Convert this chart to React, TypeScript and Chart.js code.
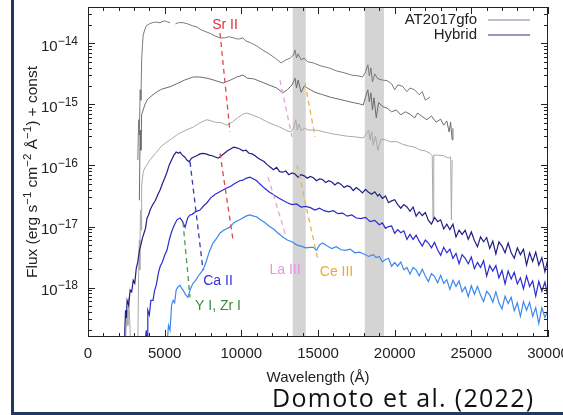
import { useEffect, useRef } from 'react';
import { Chart, registerables } from 'chart.js';

Chart.register(...registerables);

type Pt = [number, number | null];

const FONT = '"Liberation Sans", Arial, Helvetica, sans-serif';

// ---- axis settings ----
const xMin = 0;
const xMax = 30000;
const xTickValues = [0, 5000, 10000, 15000, 20000, 25000, 30000];
const yMin = 1.55e-19;
const yMax = 3.95e-14;
const yTickExponents = [-14, -15, -16, -17, -18];
const xTitle = 'Wavelength (Å)';
const yTitleParts: [string, boolean][] = [
  ['Flux (erg s', false], ['\u22121', true], [' cm', false], ['\u22122', true],
  [' Å', false], ['\u22121', true], [') + const', false],
];

// telluric bands (Å)
const telluricBands: [number, number][] = [[13350, 14200], [18050, 19300]];

// legend
const legendLabels = ['AT2017gfo', 'Hybrid'];
const legendColors = ['#a9a9bf', '#7474ab'];

// ---- spectra: [wavelength Å, log10 flux] ----
const at2017gfoEpoch1: Pt[] = [
  [3250,-15.91],[3300,-15.25],[3350,-15.50],[3400,-14.76],[3450,-14.93],[3500,-14.27],[3550,-14.03],[3600,-13.86],[3700,-13.78],[3800,-13.71],
  [4000,-13.68],[4200,-13.66],[4400,-13.65],[4700,-13.66],[5000,-13.63],[5200,-13.65],[5350,-13.66],[5500,null],[5700,-13.68],[5900,-13.66],
  [6200,-13.66],[6500,-13.68],[6800,-13.71],[7100,-13.73],[7400,-13.78],[7700,-13.81],[8000,-13.84],[8300,-13.88],[8600,-13.91],[8900,-13.91],
  [9200,-13.89],[9500,-13.91],[9800,-13.93],[10100,-13.91],[10300,-13.96],[10600,-13.99],[11000,-14.04],[11400,-14.11],[11800,-14.17],[12200,-14.24],
  [12600,-14.32],[12900,-14.27],[13200,-14.24],[13400,-14.19],[13500,-14.11],[13600,-14.24],[13700,-14.17],[13900,-14.27],[14100,-14.24],[14300,-14.30],
  [14700,-14.32],[15200,-14.37],[15700,-14.40],[16200,-14.45],[16700,-14.48],[17200,-14.52],[17600,-14.53],[17900,-14.55],[18100,-14.47],[18250,-14.35],
  [18350,-14.53],[18450,-14.40],[18550,-14.63],[18700,-14.50],[18900,-14.58],[19200,-14.60],[19500,-14.61],[19800,-14.66],[20000,-14.76],[20200,-14.68],
  [20500,-14.70],[20800,-14.79],[21000,-14.73],[21300,-14.76],[21600,-14.84],[21800,-14.79],[22000,-14.93],[22300,-14.88],
];

const at2017gfoEpoch2: Pt[] = [
  [3350,-16.57],[3400,-15.42],[3450,-15.75],[3500,-15.17],[3600,-15.09],[3700,-15.01],[3850,-14.93],[4040,-14.88],[4400,-14.81],[4800,-14.75],
  [5350,-14.71],[5800,-14.66],[6300,-14.60],[6870,-14.55],[7300,-14.55],[7760,-14.57],[8200,-14.60],[8800,-14.65],[9300,-14.60],[9700,-14.55],
  [10100,-14.52],[10400,-14.57],[10800,-14.58],[11300,-14.63],[11800,-14.68],[12300,-14.73],[12700,-14.81],[13000,-14.76],[13300,-14.68],[13500,-14.57],
  [13600,-14.73],[13700,-14.60],[13900,-14.80],[14100,-14.70],[14300,-14.73],[14800,-14.80],[15300,-14.84],[15800,-14.88],[16300,-14.91],[16800,-14.94],
  [17300,-14.97],[17700,-14.99],[17950,-15.01],[18100,-14.88],[18250,-14.76],[18350,-14.96],[18450,-14.81],[18550,-15.09],[18650,-14.89],[18800,-15.22],
  [18950,-14.97],[19250,-15.04],[19500,-15.06],[19800,-15.12],[20100,-15.09],[20400,-15.17],[20700,-15.12],[21000,-15.16],[21300,-15.22],[21500,-15.14],
  [21800,-15.20],[22100,-15.25],[22400,-15.19],[22700,-15.29],[23000,-15.24],[23200,-15.34],[23400,-15.27],[23550,-15.45],[23650,-15.29],[23750,-15.58],
  [23800,-15.39],
];

const at2017gfoEpoch3: Pt[] = [
  [2450,-18.86],[2550,-18.37],[2600,-18.62],[2650,-18.17],[2720,-18.53],[2780,-18.94],[3250,-18.94],[3300,-17.80],[3350,-17.22],[3380,-17.71],
  [3420,-16.73],[3460,-17.06],[3500,-16.32],[3600,-16.11],[3700,-16.04],[3850,-15.99],[4040,-15.91],[4400,-15.80],[4800,-15.68],[5350,-15.58],
  [5900,-15.48],[6400,-15.42],[6870,-15.37],[7300,-15.30],[7760,-15.25],[8300,-15.29],[8700,-15.30],[9050,-15.34],[9400,-15.29],[9800,-15.21],
  [10100,-15.16],[10350,-15.14],[10700,-15.17],[11200,-15.22],[11700,-15.29],[12200,-15.34],[12500,-15.37],[12900,-15.42],[13200,-15.45],[13400,-15.39],
  [13550,-15.25],[13650,-15.42],[13750,-15.32],[13900,-15.43],[14100,-15.39],[14400,-15.42],[14900,-15.42],[15400,-15.45],[15900,-15.48],[16400,-15.50],
  [16900,-15.52],[17400,-15.53],[17950,-15.55],[18150,-15.48],[18300,-15.42],[18400,-15.58],[18500,-15.45],[18600,-15.66],[18750,-15.52],[18900,-15.75],
  [19100,-15.57],[19400,-15.58],[19700,-15.61],[20150,-15.61],[20500,-15.65],[20900,-15.68],[21300,-15.70],[21700,-15.75],[22000,-15.76],[22300,-15.80],
  [22450,-15.84],[22500,-16.89],[22550,-15.83],[22800,-15.83],[23200,-15.84],[23500,-15.88],[23650,-15.86],[23700,-16.89],[23750,-15.91],
];

const hybridEarly: Pt[] = [
  [2350,-18.94],[2400,-18.70],[2450,-18.37],[2500,-18.50],[2550,-18.21],[2650,-18.29],[2750,-18.04],[2850,-18.07],[2950,-17.88],[3050,-17.93],
  [3150,-17.68],[3250,-17.58],[3350,-17.39],[3450,-17.30],[3550,-17.19],[3650,-17.11],[3750,-17.03],[3850,-16.86],[3950,-16.81],[4050,-16.73],
  [4200,-16.65],[4400,-16.57],[4550,-16.48],[4700,-16.40],[4850,-16.30],[5000,-16.21],[5150,-16.11],[5300,-15.99],[5450,-15.91],[5600,-15.83],
  [5750,-15.78],[5900,-15.80],[6000,-15.78],[6150,-15.83],[6300,-15.86],[6450,-15.91],[6600,-15.94],[6750,-15.88],[6900,-15.86],[7100,-15.84],
  [7300,-15.81],[7500,-15.80],[7700,-15.81],[7900,-15.83],[8100,-15.84],[8300,-15.86],[8500,-15.88],[8700,-15.84],[8900,-15.80],[9100,-15.76],
  [9300,-15.73],[9500,-15.70],[9700,-15.71],[9900,-15.73],[10100,-15.76],[10300,-15.75],[10500,-15.80],[10700,-15.81],[10900,-15.84],[11100,-15.88],
  [11300,-15.91],[11500,-15.94],[11700,-15.99],[11900,-16.03],[12100,-16.07],[12300,-16.03],[12500,-16.10],[12700,-16.11],[12900,-16.09],[13100,-16.15],
  [13300,-16.12],[13500,-16.14],[13700,-16.19],[13900,-16.15],[14100,-16.17],[14300,-16.21],[14500,-16.18],[14700,-16.20],[14900,-16.25],[15100,-16.22],
  [15300,-16.23],[15500,-16.28],[15700,-16.25],[15900,-16.27],[16100,-16.32],[16300,-16.28],[16500,-16.31],[16700,-16.36],[16900,-16.33],[17100,-16.35],
  [17300,-16.41],[17500,-16.36],[17700,-16.40],[17900,-16.45],[18100,-16.39],[18300,-16.44],[18500,-16.47],[18700,-16.43],[18900,-16.50],
  [19000,-16.47],[19200,-16.54],[19400,-16.50],[19600,-16.61],[19800,-16.58],[20000,-16.56],[20200,-16.64],[20400,-16.70],[20600,-16.64],[20800,-16.68],
  [21000,-16.75],[21200,-16.68],[21400,-16.83],[21600,-16.76],[21800,-16.82],[22000,-16.77],[22200,-16.90],[22400,-16.96],[22600,-16.85],[22800,-16.92],
  [23000,-16.89],[23200,-17.04],[23400,-16.96],[23600,-17.05],[23800,-16.96],[24000,-17.17],[24200,-17.06],[24400,-17.13],[24600,-17.06],[24800,-17.21],
  [25000,-17.09],[25200,-17.23],[25400,-17.33],[25600,-17.17],[25800,-17.25],[26000,-17.18],[26200,-17.36],[26400,-17.24],[26600,-17.45],[26800,-17.25],
  [27000,-17.32],[27200,-17.43],[27400,-17.27],[27600,-17.43],[27800,-17.52],[28000,-17.35],[28200,-17.46],[28400,-17.37],[28600,-17.63],[28800,-17.43],
  [29000,-17.57],[29200,-17.42],[29400,-17.63],[29600,-17.51],[29800,-17.74],[30000,-17.52],
];

const hybridMid: Pt[] = [
  [3700,-18.94],[3800,-18.70],[3850,-18.86],[3900,-18.37],[4000,-18.45],[4100,-18.21],[4240,-18.21],[4350,-18.04],[4450,-17.96],[4600,-17.75],
  [4700,-17.66],[4850,-17.58],[5000,-17.47],[5150,-17.39],[5300,-17.22],[5450,-17.09],[5600,-16.99],[5800,-16.89],[6000,-16.86],[6150,-16.91],
  [6330,-17.01],[6500,-16.86],[6650,-16.81],[6800,-16.80],[7000,-16.76],[7300,-16.73],[7550,-16.66],[7760,-16.61],[8000,-16.53],[8300,-16.47],
  [8600,-16.43],[9050,-16.37],[9300,-16.34],[9600,-16.29],[9900,-16.25],[10100,-16.24],[10300,-16.21],[10560,-16.19],[10800,-16.22],[11000,-16.25],
  [11200,-16.30],[11500,-16.37],[11800,-16.43],[12100,-16.48],[12400,-16.53],[12700,-16.57],[13000,-16.61],[13300,-16.64],[13600,-16.63],[13900,-16.68],
  [14200,-16.67],[14500,-16.69],[14800,-16.73],[15100,-16.70],[15400,-16.74],[15700,-16.76],[16000,-16.74],[16300,-16.79],[16600,-16.78],[16900,-16.83],
  [17200,-16.81],[17500,-16.86],[17800,-16.87],[18100,-16.85],[18400,-16.92],[18700,-16.90],
  [19000,-16.97],[19200,-16.94],[19400,-17.03],[19600,-17.00],[19800,-16.99],[20000,-17.11],[20200,-17.05],[20400,-17.10],[20600,-17.07],[20800,-17.21],
  [21000,-17.13],[21200,-17.21],[21400,-17.14],[21600,-17.24],[21800,-17.32],[22000,-17.22],[22200,-17.27],[22400,-17.35],[22600,-17.26],[22800,-17.38],
  [23000,-17.47],[23200,-17.34],[23400,-17.43],[23600,-17.37],[23800,-17.52],[24000,-17.44],[24200,-17.61],[24400,-17.46],[24600,-17.52],[24800,-17.61],
  [25000,-17.50],[25200,-17.69],[25400,-17.59],[25600,-17.67],[25800,-17.56],[26000,-17.81],[26200,-17.64],[26400,-17.73],[26600,-17.64],[26800,-17.84],
  [27000,-17.72],[27200,-17.94],[27400,-17.73],[27600,-17.86],[27800,-17.75],[28000,-17.94],[28200,-17.84],[28400,-18.02],[28600,-17.81],[28800,-17.98],
  [29000,-17.89],[29200,-18.14],[29400,-17.90],[29600,-18.06],[29800,-17.91],[30000,-18.16],
];

const hybridLate: Pt[] = [
  [5150,-18.94],[5250,-18.62],[5350,-18.70],[5450,-18.29],[5550,-18.21],[5650,-18.25],[5750,-18.04],[5870,-17.99],[6000,-17.96],[6100,-18.01],
  [6200,-18.04],[6350,-18.11],[6520,-18.16],[6700,-18.01],[6850,-17.93],[7000,-17.89],[7200,-17.81],[7350,-17.76],[7500,-17.71],[7700,-17.58],
  [7900,-17.42],[8150,-17.27],[8400,-17.19],[8600,-17.11],[8800,-17.07],[9000,-17.04],[9250,-17.01],[9500,-16.94],[9700,-16.91],[9900,-16.89],
  [10100,-16.86],[10300,-16.83],[10560,-16.81],[10800,-16.83],[11000,-16.84],[11200,-16.88],[11500,-16.93],[11800,-16.99],[12100,-17.04],[12400,-17.11],
  [12700,-17.17],[13000,-17.22],[13300,-17.25],[13600,-17.30],[13900,-17.32],[14200,-17.35],[14500,-17.34],[14700,-17.34],[14900,-17.39],[15100,-17.30],
  [15300,-17.27],[15600,-17.32],[15900,-17.36],[16200,-17.33],[16500,-17.38],[16800,-17.39],[17100,-17.37],[17400,-17.43],[17700,-17.42],[18000,-17.45],
  [18300,-17.49],[18600,-17.46],[18800,-17.51],
  [19000,-17.49],[19200,-17.58],[19400,-17.54],[19600,-17.52],[19800,-17.65],[20000,-17.59],[20200,-17.65],[20400,-17.58],[20600,-17.71],[20800,-17.67],
  [21000,-17.78],[21200,-17.67],[21400,-17.71],[21600,-17.81],[21800,-17.70],[22000,-17.81],[22200,-17.90],[22400,-17.77],[22600,-17.82],[22800,-17.92],
  [23000,-17.80],[23200,-17.93],[23400,-17.87],[23600,-18.03],[23800,-17.88],[24000,-17.98],[24200,-17.89],[24400,-18.07],[24600,-17.99],[24800,-18.15],
  [25000,-17.97],[25200,-18.11],[25400,-17.98],[25600,-18.12],[25800,-18.23],[26000,-18.06],[26200,-18.12],[26400,-18.24],[26600,-18.07],[26800,-18.25],
  [27000,-18.35],[27200,-18.14],[27400,-18.26],[27600,-18.16],[27800,-18.38],[28000,-18.25],[28200,-18.47],[28400,-18.23],[28600,-18.37],[28800,-18.24],
  [29000,-18.47],[29200,-18.33],[29400,-18.59],[29600,-18.33],[29800,-18.49],[30000,-18.37],
];

// ---- line identification guides: [wavelength Å, log10 flux] ----
const srIIGuideObs: Pt[] = [[8609, -13.83], [9261, -15.45]];
const srIIGuideModel: Pt[] = [[8609, -15.80], [9457, -17.22]];
const caIIGuide: Pt[] = [[6652, -15.94], [7500, -17.71]];
const yZrGuide: Pt[] = [[6196, -16.93], [6652, -18.16]];
const laIIIGuideObs: Pt[] = [[12522, -14.60], [13305, -15.53]];
const laIIIGuideModel: Pt[] = [[11740, -16.19], [12914, -17.16]];
const ceIIIGuideObs: Pt[] = [[14153, -14.65], [14805, -15.53]];
const ceIIIGuideModel: Pt[] = [[13631, -15.99], [15001, -17.55]];

const ionLabels = ['Sr II', 'Ca II', 'Y I, Zr I', 'La III', 'Ce III'];
const ionLabelWave = [8935, 8479, 8479, 12848, 16207];
const ionLabelLogFlux = [-13.70, -17.89, -18.30, -17.71, -17.75];
const ionLabelColors = ['#e0303c', '#3434d4', '#3a8a3a', '#e496de', '#f0a830'];

const toData = (pts: Pt[]) => pts.map(([w, l]) => ({ x: w, y: l === null ? null : Math.pow(10, l) }));

const spectrum = (pts: Pt[], color: string, width = 1) => ({
  data: toData(pts), borderColor: color, borderWidth: width, pointRadius: 0, tension: 0, spanGaps: false, fill: false,
});
const guide = (pts: Pt[], color: string) => ({
  data: toData(pts), borderColor: color, borderWidth: 1.3, borderDash: [5, 4], pointRadius: 0, tension: 0, fill: false,
});

const decorPlugin = {
  id: 'decor',
  beforeDatasetsDraw(chart: any) {
    const { ctx, chartArea: a, scales: { x } } = chart;
    ctx.save();
    ctx.fillStyle = '#d4d4d4';
    telluricBands.forEach(([lo, hi]) => {
      const x0 = x.getPixelForValue(lo);
      const x1 = x.getPixelForValue(hi);
      ctx.fillRect(x0, a.top, x1 - x0, a.bottom - a.top);
    });
    ctx.restore();
  },
  afterDatasetsDraw(chart: any) {
    const { ctx, chartArea: a, scales: { x, y } } = chart;
    ctx.save();
    // frame
    ctx.strokeStyle = '#222';
    ctx.lineWidth = 1;
    ctx.strokeRect(a.left + 0.5, a.top + 0.5, a.right - a.left - 1, a.bottom - a.top - 1);
    // inward ticks
    ctx.beginPath();
    for (let v = xMin; v <= xMax; v += 1000) {
      const px = Math.round(x.getPixelForValue(v)) + 0.5;
      const len = v % 5000 === 0 ? 7 : 4;
      ctx.moveTo(px, a.bottom); ctx.lineTo(px, a.bottom - len);
      ctx.moveTo(px, a.top); ctx.lineTo(px, a.top + len);
    }
    for (let e = -20; e <= -13; e++) {
      for (let m = 1; m <= 9; m++) {
        const v = m * Math.pow(10, e);
        if (v < yMin || v > yMax) continue;
        const py = Math.round(y.getPixelForValue(v)) + 0.5;
        const len = m === 1 ? 7 : 4;
        ctx.moveTo(a.left, py); ctx.lineTo(a.left + len, py);
        ctx.moveTo(a.right, py); ctx.lineTo(a.right - len, py);
      }
    }
    ctx.stroke();

    // ion labels
    ctx.font = `14px ${FONT}`;
    ctx.textAlign = 'center';
    ctx.textBaseline = 'middle';
    ionLabels.forEach((t, i) => {
      ctx.fillStyle = ionLabelColors[i];
      ctx.fillText(t, x.getPixelForValue(ionLabelWave[i]), y.getPixelForValue(Math.pow(10, ionLabelLogFlux[i])));
    });

    // legend
    ctx.font = `15px ${FONT}`;
    ctx.textAlign = 'right';
    legendLabels.forEach((t, i) => {
      const cy = a.top + 12.5 + i * 15;
      ctx.fillStyle = '#222';
      ctx.fillText(t, a.right - 71, cy);
      ctx.strokeStyle = legendColors[i];
      ctx.lineWidth = 1.5;
      ctx.beginPath();
      ctx.moveTo(a.right - 60, cy + 0.5);
      ctx.lineTo(a.right - 18, cy + 0.5);
      ctx.stroke();
    });

    // y tick labels
    ctx.fillStyle = '#222';
    yTickExponents.forEach((e) => {
      const py = y.getPixelForValue(Math.pow(10, e));
      const sup = '\u2212' + Math.abs(e);
      ctx.font = `12px ${FONT}`;
      const sw = ctx.measureText(sup).width;
      ctx.textAlign = 'right';
      ctx.textBaseline = 'middle';
      ctx.fillText(sup, a.left - 10, py - 2);
      ctx.font = `15px ${FONT}`;
      ctx.fillText('10', a.left - 10 - sw, py + 3.5);
    });

    // y title
    ctx.save();
    ctx.translate(37, (a.top + a.bottom) / 2);
    ctx.rotate(-Math.PI / 2);
    ctx.textAlign = 'left';
    ctx.textBaseline = 'alphabetic';
    let total = 0;
    yTitleParts.forEach(([t, s]) => { ctx.font = `${s ? 11.5 : 15.5}px ${FONT}`; total += ctx.measureText(t).width; });
    let cx = -total / 2;
    yTitleParts.forEach(([t, s]) => {
      ctx.font = `${s ? 11.5 : 15.5}px ${FONT}`;
      ctx.fillText(t, cx, s ? -6 : 0);
      cx += ctx.measureText(t).width;
    });
    ctx.restore();
    ctx.restore();
  },
};

export default function App() {
  const ref = useRef<HTMLCanvasElement>(null);
  useEffect(() => {
    const canvas = ref.current;
    if (!canvas) return;
    const chart = new Chart(canvas, {
      type: 'line',
      data: {
        datasets: [
          guide(srIIGuideObs, '#e04852'),
          guide(srIIGuideModel, '#e04852'),
          guide(caIIGuide, '#3a3ab4'),
          guide(yZrGuide, '#4a9a4a'),
          guide(laIIIGuideObs, '#e0a6dc'),
          guide(laIIIGuideModel, '#e0a6dc'),
          guide(ceIIIGuideObs, '#f2b040'),
          guide(ceIIIGuideModel, '#f2b040'),
          spectrum(hybridLate, '#3d88ee', 1.2),
          spectrum(hybridMid, '#2b2bd0', 1.2),
          spectrum(hybridEarly, '#1f1f86', 1.2),
          spectrum(at2017gfoEpoch3, '#a9a9a9'),
          spectrum(at2017gfoEpoch2, '#6c6c6c'),
          spectrum(at2017gfoEpoch1, '#7a7a7a'),
        ] as any,
      },
      options: {
        animation: false,
        responsive: false,
        maintainAspectRatio: false,
        devicePixelRatio: 1,
        layout: { padding: { top: 7, right: 15, left: 0, bottom: 0 } },
        plugins: { legend: { display: false }, tooltip: { enabled: false } },
        scales: {
          x: {
            type: 'linear',
            min: xMin,
            max: xMax,
            afterBuildTicks: (s: any) => { s.ticks = xTickValues.map((v) => ({ value: v })); },
            ticks: {
              font: { family: FONT, size: 15 }, color: '#222', padding: 8, maxRotation: 0, autoSkip: false,
              callback: (v: any) => String(v),
            },
            grid: { display: true, drawOnChartArea: false, drawTicks: false, color: 'transparent' },
            border: { display: false },
            title: { display: true, text: xTitle, font: { family: FONT, size: 15 }, color: '#222', padding: { top: 4, bottom: 28 } },
            afterFit: (s: any) => { s.height = 78; s.paddingLeft = 0; s.paddingRight = 0; },
          },
          y: {
            type: 'logarithmic',
            min: yMin,
            max: yMax,
            ticks: { display: false },
            grid: { display: false },
            border: { display: false },
            afterFit: (s: any) => { s.width = 88; },
          },
        },
      } as any,
      plugins: [decorPlugin],
    });
    return () => chart.destroy();
  }, []);

  return (
    <div style={{ position: 'fixed', left: 0, top: 0, width: 563, height: 415, overflow: 'hidden', background: '#fff' }}>
      <div style={{ position: 'absolute', left: 11, top: -10, width: 600, height: 422, borderLeft: '3px solid #1f3864', borderBottom: '3px solid #1f3864' }} />
      <canvas ref={ref} width={563} height={415} style={{ position: 'absolute', left: 0, top: 0, width: 563, height: 415 }} />
      <div style={{ position: 'absolute', left: 272, top: 385, fontFamily: '"Open Sans", sans-serif', fontSize: 25, lineHeight: '25px', letterSpacing: '1.3px', color: '#111', whiteSpace: 'nowrap' }}>
        Domoto et al. (2022)
      </div>
    </div>
  );
}
